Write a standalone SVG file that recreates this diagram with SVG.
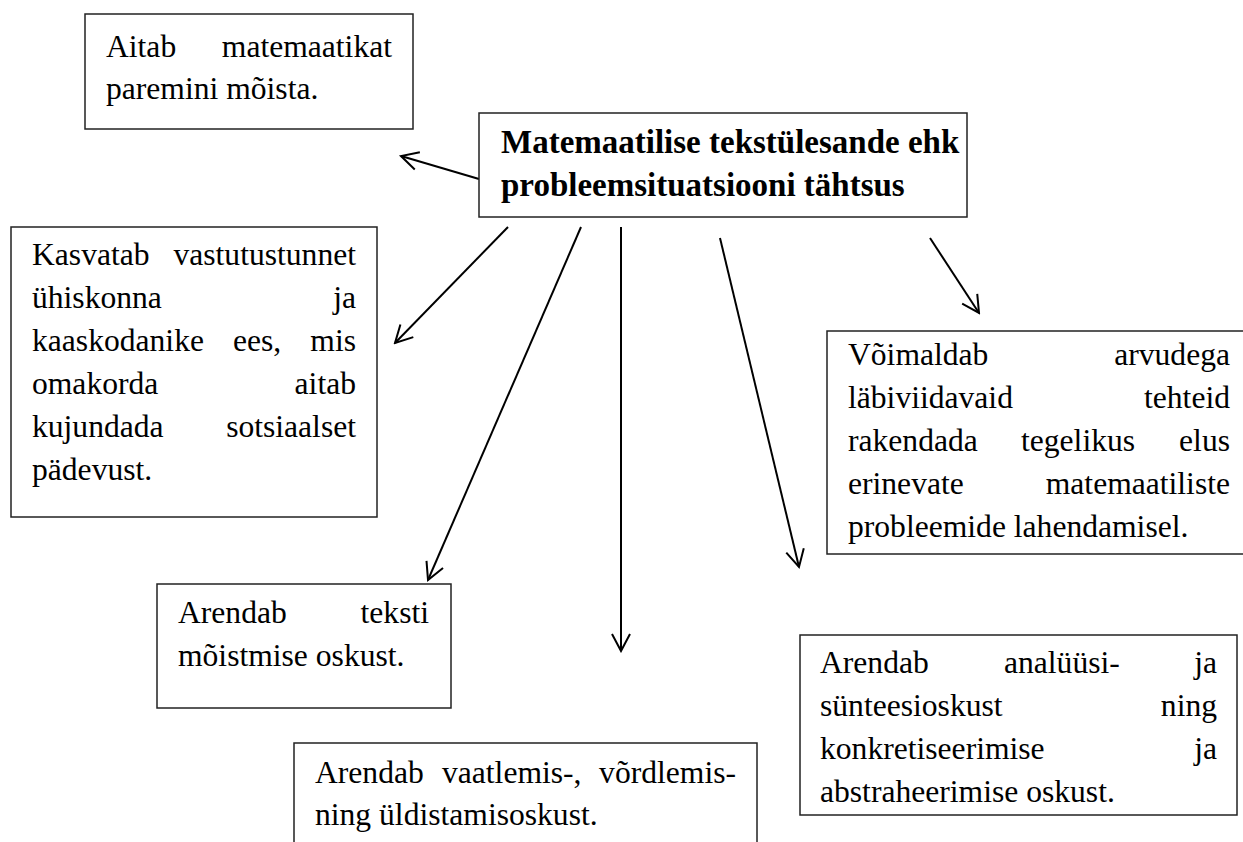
<svg xmlns="http://www.w3.org/2000/svg" width="1243" height="842" viewBox="0 0 1243 842">
<style>
.box{fill:#fff;stroke:#222;stroke-width:1.5}
.t{font-family:"Liberation Serif","Times New Roman",serif;font-size:31.6px;fill:#000}
.b{font-family:"Liberation Serif","Times New Roman",serif;font-size:33px;font-weight:bold;fill:#000}
.e{text-anchor:end}
.c{fill:none;stroke:#000;stroke-width:2}
</style>
<defs>
<marker id="ah" markerUnits="userSpaceOnUse" viewBox="-20 -12 22 24" refX="0" refY="0" markerWidth="22" markerHeight="24" orient="auto">
<path d="M -17 -9 L 0 0 L -17 9" fill="none" stroke="#000" stroke-width="2"/>
</marker>
</defs>
<rect width="1243" height="842" fill="#fff"/>
<g id="connectors">
<line class="c" x1="479" y1="179" x2="401" y2="156" marker-end="url(#ah)"/>
<line class="c" x1="508" y1="227" x2="395" y2="343" marker-end="url(#ah)"/>
<line class="c" x1="581" y1="227" x2="428" y2="580" marker-end="url(#ah)"/>
<line class="c" x1="621" y1="227" x2="621" y2="651" marker-end="url(#ah)"/>
<line class="c" x1="720" y1="238" x2="799" y2="567" marker-end="url(#ah)"/>
<line class="c" x1="930" y1="238" x2="979" y2="313" marker-end="url(#ah)"/>
</g>
<g id="n-aitab">
<rect class="box" x="85" y="14" width="328" height="115"/>
<text class="t" x="106" y="57">Aitab</text>
<text class="t e" x="392" y="57">matemaatikat</text>
<text class="t" x="106" y="99">paremini mõista.</text>
</g>
<g id="n-title">
<rect class="box" x="479" y="113" width="488" height="104"/>
<text class="b" x="501" y="153">Matemaatilise tekstülesande ehk</text>
<text class="b" x="501" y="196">probleemsituatsiooni tähtsus</text>
</g>
<g id="n-kasvatab">
<rect class="box" x="11" y="227" width="366" height="290"/>
<text class="t" x="32" y="265">Kasvatab</text>
<text class="t e" x="356" y="265">vastutustunnet</text>
<text class="t" x="32" y="308">ühiskonna</text>
<text class="t e" x="356" y="308">ja</text>
<text class="t" x="32" y="351">kaaskodanike</text>
<text class="t" x="233" y="351">ees,</text>
<text class="t e" x="356" y="351">mis</text>
<text class="t" x="32" y="394">omakorda</text>
<text class="t e" x="356" y="394">aitab</text>
<text class="t" x="32" y="437">kujundada</text>
<text class="t e" x="356" y="437">sotsiaalset</text>
<text class="t" x="32" y="480">pädevust.</text>
</g>
<g id="n-voimaldab">
<rect class="box" x="827" y="331" width="430" height="223"/>
<text class="t" x="848" y="365">Võimaldab</text>
<text class="t e" x="1230" y="365">arvudega</text>
<text class="t" x="848" y="408">läbiviidavaid</text>
<text class="t e" x="1230" y="408">tehteid</text>
<text class="t" x="848" y="451">rakendada</text>
<text class="t" x="1021" y="451">tegelikus</text>
<text class="t e" x="1230" y="451">elus</text>
<text class="t" x="848" y="494">erinevate</text>
<text class="t e" x="1230" y="494">matemaatiliste</text>
<text class="t" x="848" y="537">probleemide lahendamisel.</text>
</g>
<g id="n-teksti">
<rect class="box" x="157" y="584" width="294" height="124"/>
<text class="t" x="178" y="623">Arendab</text>
<text class="t e" x="429" y="623">teksti</text>
<text class="t" x="178" y="666">mõistmise oskust.</text>
</g>
<g id="n-vaatlemis">
<rect class="box" x="294" y="743" width="463" height="120"/>
<text class="t" x="315" y="783">Arendab</text>
<text class="t" x="442" y="783">vaatlemis-,</text>
<text class="t e" x="736" y="783">võrdlemis-</text>
<text class="t" x="315" y="825">ning üldistamisoskust.</text>
</g>
<g id="n-analyysi">
<rect class="box" x="800" y="635" width="437" height="180"/>
<text class="t" x="820" y="673">Arendab</text>
<text class="t" x="1004" y="673">analüüsi-</text>
<text class="t e" x="1217" y="673">ja</text>
<text class="t" x="820" y="716">sünteesioskust</text>
<text class="t e" x="1217" y="716">ning</text>
<text class="t" x="820" y="759">konkretiseerimise</text>
<text class="t e" x="1217" y="759">ja</text>
<text class="t" x="820" y="802">abstraheerimise oskust.</text>
</g>
</svg>
